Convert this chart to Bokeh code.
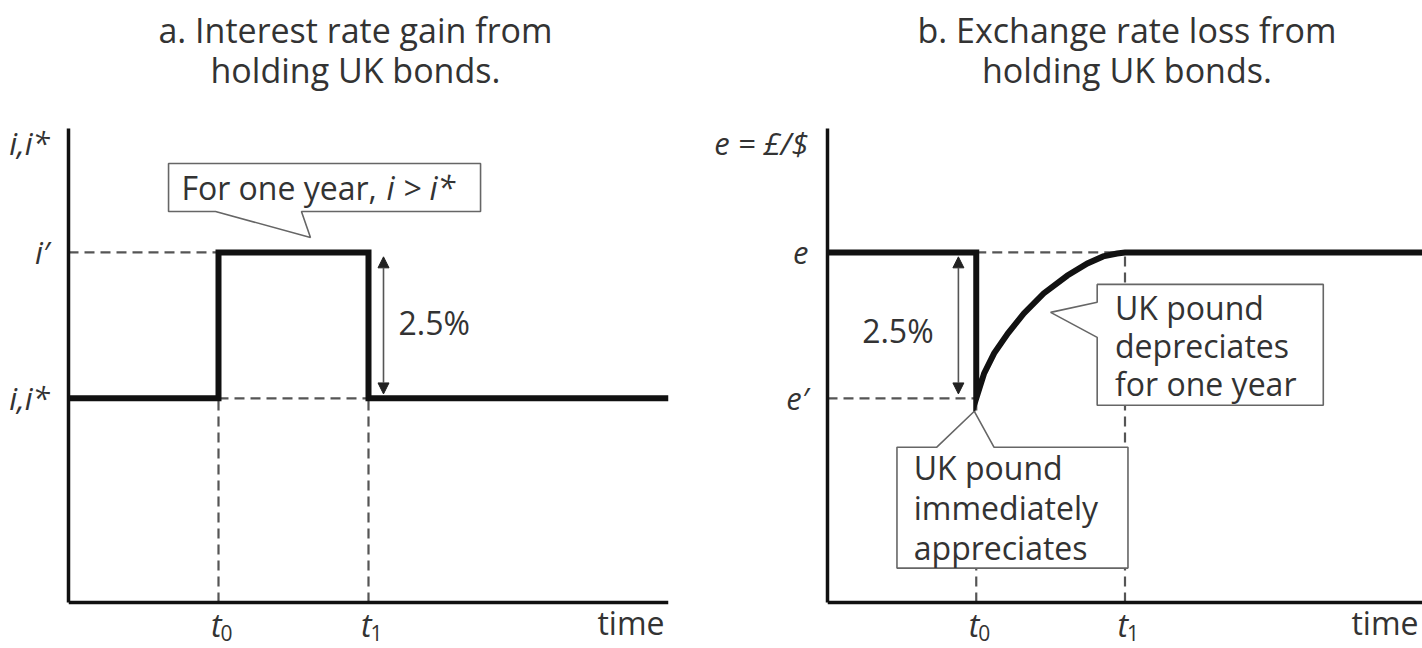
from bokeh.plotting import figure
from bokeh.models import (FixedTicker, Range1d, Arrow, NormalHead)
from bokeh.layouts import row
from bokeh.embed import file_html
from bokeh.resources import INLINE
from bokeh.core.properties import value

# ---------------- data ----------------
# time axis: t0 = 1, t1 = 2 (one year apart)
time_ticks = [1, 2]
time_subscripts = ["0", "1"]

# Panel a: interest rate path (i = 1, i' = 2)
rate_time = [0.0, 1.0, 1.0, 2.0, 2.0, 4.0]
rate_level = [1.0, 1.0, 2.0, 2.0, 1.0, 1.0]
rate_ticks = [1, 2, 2.75]
rate_labels = ["i,i*", "i\u2032", "i,i*"]

# Panel b: exchange rate path (e' = 1, e = 2)
fx_time = [0.0, 1.0, 1.0, 1.053, 1.12, 1.213, 1.32, 1.453, 1.613, 1.747, 1.853, 1.947, 2.0, 4.0]
fx_level = [2.0, 2.0, 1.0, 1.171, 1.308, 1.445, 1.582, 1.719, 1.842, 1.925, 1.973, 1.993, 2.0, 2.0]
fx_ticks = [1, 2, 2.75]
fx_labels = ["e\u2032", "e", "e = \u00a3/$"]

gap_label = "2.5%"
title_a = ["a. Interest rate gain from", "holding UK bonds."]
title_b = ["b. Exchange rate loss from", "holding UK bonds."]

# ---------------- style ----------------
FONT = "Open Sans"
TXT = "#333333"
INK = "#111111"
DASH = "#555555"
FS = "32px"
Y_AXIS = -0.4       # where the time axis sits
Y_BOTTOM = -0.7154  # bottom of the canvas
Y_TOP = 3.7275      # top of the canvas
Y_AXIS_TOP = 2.85   # top of the vertical axis

def base_fig(left_border, right_border, title_lines, title_x):
    p = figure(width=711, height=648, output_backend="svg", toolbar_location=None,
               x_range=Range1d(0, 4), y_range=Range1d(Y_BOTTOM, Y_TOP),
               min_border_left=left_border, min_border_right=right_border,
               min_border_top=0, min_border_bottom=0)
    p.outline_line_color = None
    p.xgrid.visible = False
    p.ygrid.visible = False
    p.background_fill_color = "white"
    p.border_fill_color = "white"
    for ax in (p.xaxis[0], p.yaxis[0]):
        ax.axis_line_width = 3.5
        ax.axis_line_color = INK
        ax.major_tick_line_color = None
        ax.minor_tick_line_color = None
        ax.major_label_text_font = FONT
        ax.major_label_text_font_style = "italic"
        ax.major_label_text_color = TXT
        ax.major_label_text_font_size = "31px"
    p.xaxis.fixed_location = Y_AXIS
    p.xaxis.ticker = FixedTicker(ticks=[])
    p.yaxis.bounds = (Y_AXIS, Y_AXIS_TOP)
    p.yaxis.major_label_standoff = 13
    # two-line panel title
    p.text(x=[title_x, title_x], y=[3.522, 3.248], text=title_lines,
           text_font=value(FONT), text_font_size="34px", text_color=TXT,
           text_align="center", text_baseline="middle")
    # time-axis labels t0, t1 and "time"
    p.text(x=time_ticks, y=[-0.551] * len(time_ticks), text=["t"] * len(time_ticks),
           text_font=value(FONT), text_font_size=FS, text_font_style="italic",
           text_color=TXT, text_align="right", text_baseline="middle", x_offset=3)
    p.text(x=time_ticks, y=[-0.551] * len(time_ticks), text=time_subscripts,
           text_font=value(FONT), text_font_size="21px", text_color=TXT,
           text_align="left", text_baseline="middle", x_offset=2, y_offset=8)
    p.text(x=[4.0], y=[-0.537], text=["time"], text_font=value(FONT), text_font_size=FS,
           text_color=TXT, text_align="right", text_baseline="middle", x_offset=-4)
    return p

def dashed(p, xs, ys):
    p.line(xs, ys, line_color=DASH, line_width=2.2, line_dash="10 6")

def callout(p, xs, ys):
    p.patch(xs, ys, fill_color="white", line_color="#666666", line_width=1.6)

def text(p, x, y, t, style="normal"):
    p.text(x=[x], y=[y], text=[t], text_font=value(FONT), text_font_size=FS,
           text_font_style=style, text_color=TXT, text_align="left", text_baseline="middle")

def arrow(p, x, y0, y1):
    p.add_layout(Arrow(x_start=x, y_start=y0, x_end=x, y_end=y1,
                       start=NormalHead(size=11, fill_color="#222222", line_color="#222222"),
                       end=NormalHead(size=11, fill_color="#222222", line_color="#222222"),
                       line_color="#555555", line_width=1.6))

t0, t1 = time_ticks

# ---------------- panel a ----------------
pa = base_fig(68, 43, title_a, 1.913)
pa.yaxis.ticker = FixedTicker(ticks=rate_ticks)
pa.yaxis.major_label_overrides = dict(zip(rate_ticks, rate_labels))

lo, hi = rate_level[0], rate_level[2]
dashed(pa, [0, t0], [hi, hi])
dashed(pa, [t0, t1], [lo, lo])
dashed(pa, [t0, t0], [Y_AXIS, lo])
dashed(pa, [t1, t1], [Y_AXIS, lo])
pa.line(rate_time, rate_level, line_color=INK, line_width=6, line_join="miter")
arrow(pa, 2.1, lo + 0.03, hi - 0.03)
text(pa, 2.2, 1.52, gap_label)
callout(pa, [0.667, 2.747, 2.747, 1.553, 1.613, 0.98, 0.667],
            [2.61, 2.61, 2.281, 2.281, 2.103, 2.281, 2.281])
text(pa, 0.753, 2.445, "For one year,")
text(pa, 2.12, 2.445, "i > i*", style="italic")

# ---------------- panel b ----------------
pb = base_fig(111, 0, title_b, 2.013)
pb.yaxis.ticker = FixedTicker(ticks=fx_ticks)
pb.yaxis.major_label_overrides = dict(zip(fx_ticks, fx_labels))

lo_b, hi_b = fx_level[2], fx_level[0]
dashed(pb, [t0, t1], [hi_b, hi_b])
dashed(pb, [0, t0], [lo_b, lo_b])
dashed(pb, [t0, t0], [Y_AXIS, lo_b])
dashed(pb, [t1, t1], [Y_AXIS, hi_b])
pb.line(fx_time, fx_level, line_color=INK, line_width=6, line_join="miter")
arrow(pb, 0.88, lo_b + 0.03, hi_b - 0.03)
text(pb, 0.233, 1.466, gap_label)
callout(pb, [1.813, 3.333, 3.333, 1.813, 1.813, 1.5, 1.813, 1.813],
            [1.781, 1.781, 0.952, 0.952, 1.418, 1.589, 1.658, 1.781])
for yy, t in zip([1.623, 1.363, 1.103], ["UK pound", "depreciates", "for one year"]):
    text(pb, 1.933, yy, t)
callout(pb, [0.467, 0.733, 0.987, 1.12, 2.02, 2.02, 0.467],
            [0.664, 0.664, 0.911, 0.664, 0.664, -0.164, -0.164])
for yy, t in zip([0.527, 0.253, -0.021], ["UK pound", "immediately", "appreciates"]):
    text(pb, 0.58, yy, t)

layout = row(pa, pb)
open("out.html", "w").write(file_html(layout, INLINE))
